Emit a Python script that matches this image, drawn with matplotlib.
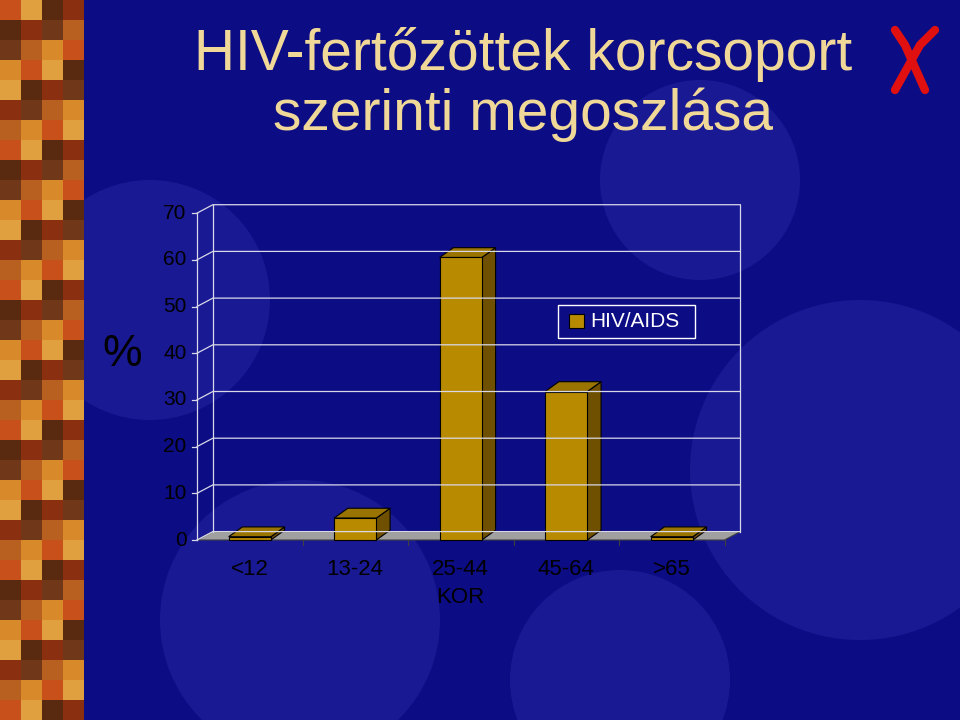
import matplotlib
matplotlib.use("Agg")
import matplotlib.pyplot as plt
from matplotlib.patches import Polygon, Rectangle

categories = ["<12", "13-24", "25-44", "45-64", ">65"]
values = [0.7, 4.7, 60.5, 31.8, 0.7]
yticks = [0, 10, 20, 30, 40, 50, 60, 70]
series_name = "HIV/AIDS"

fig = plt.figure(figsize=(9.6, 7.2), dpi=100)
fig.patch.set_facecolor("#0c0c84")

bg = fig.add_axes([0, 0, 1, 1]); bg.set_xlim(0, 960); bg.set_ylim(720, 0); bg.axis("off")
for (cx, cy, r) in [(860, 470, 170), (300, 620, 140), (150, 300, 120), (620, 680, 110), (700, 180, 100)]:
    bg.add_patch(plt.Circle((cx, cy), r, color="#2a2aa8", alpha=0.45, lw=0))
cols = ["#c8501a", "#8a3010", "#d88a2a", "#5a2a10", "#b86020", "#e0a040", "#703818"]
for i in range(36):
    for j in range(4):
        bg.add_patch(Rectangle((j*21, i*20), 21, 20, color=cols[(i*3 + j*5) % len(cols)], lw=0))
bg.plot([895, 920, 935], [90, 45, 30], color="#e01010", lw=6, solid_capstyle="round")
bg.plot([925, 905, 895], [90, 45, 30], color="#e01010", lw=6, solid_capstyle="round")

fig.text(0.545, 1-55/720, "HIV-fertőzöttek korcsoport", ha="center", va="center",
         fontsize=41, color="#f0d898", family="Liberation Sans")
fig.text(0.545, 1-115/720, "szerinti megoszlása", ha="center", va="center",
         fontsize=41, color="#f0d898", family="Liberation Sans")

ax = fig.add_axes([197/960, 0.25, 527.5/960, 0.454])
ax.set_xlim(0, 5); ax.set_ylim(0, 70); ax.axis("off")
dx, dy = 0.15, 1.8
n = len(categories)
ax.add_patch(Polygon([(0, 0), (n, 0), (n+dx, dy), (dx, dy)], closed=True, fc="#a0a0a0", ec="#404040", lw=0.8, clip_on=False))
for t in yticks:
    ax.plot([0, dx, n+dx], [t, t+dy, t+dy], color="#d8d8e8", lw=0.9, clip_on=False)
ax.plot([dx, dx], [dy, 70+dy], color="#d8d8e8", lw=0.9, clip_on=False)
ax.plot([n+dx, n+dx], [dy, 70+dy], color="#d8d8e8", lw=0.9, clip_on=False)
ax.plot([0, 0], [0, 70], color="#d8d8e8", lw=0.9, clip_on=False)
for t in yticks:
    ax.plot([-0.05, 0], [t, t], color="#d8d8e8", lw=0.9, clip_on=False)
    ax.text(-0.1, t, str(t), ha="right", va="center", fontsize=15, color="black", family="Liberation Sans")
for k in range(1, n+1):
    ax.plot([k, k], [0, -1], color="#404040", lw=0.8, clip_on=False)

w = 0.4
bdx, bdy = 0.13, 2.1
for i, v in enumerate(values):
    x0 = i + 0.5 - w/2
    ax.add_patch(Polygon([(x0+w, 0), (x0+w+bdx, bdy), (x0+w+bdx, v+bdy), (x0+w, v)], fc="#6e5000", ec="black", lw=0.8, clip_on=False))
    ax.add_patch(Polygon([(x0, v), (x0+bdx, v+bdy), (x0+w+bdx, v+bdy), (x0+w, v)], fc="#9a7400", ec="black", lw=0.8, clip_on=False))
    ax.add_patch(Rectangle((x0, 0), w, v, fc="#b88a00", ec="black", lw=0.8, clip_on=False))
    ax.text(i + 0.5, -6.3, categories[i], ha="center", va="center", fontsize=16, color="black", family="Liberation Sans")
ax.text(2.5, -12.3, "KOR", ha="center", va="center", fontsize=16, color="black", family="Liberation Sans")

ax.add_patch(Rectangle((3.42, 43.3), 1.3, 7.0, fc="none", ec="white", lw=1, clip_on=False))
ax.add_patch(Rectangle((3.53, 45.3), 0.14, 3.2, fc="#b88a00", ec="black", lw=0.8, clip_on=False))
ax.text(3.73, 46.8, series_name, ha="left", va="center", fontsize=15, color="white", family="Liberation Sans")

fig.text(122/960, 1-355/720, "%", ha="center", va="center", fontsize=32, color="black", family="Liberation Sans")

fig.savefig("out.png", dpi=100, facecolor=fig.get_facecolor())
